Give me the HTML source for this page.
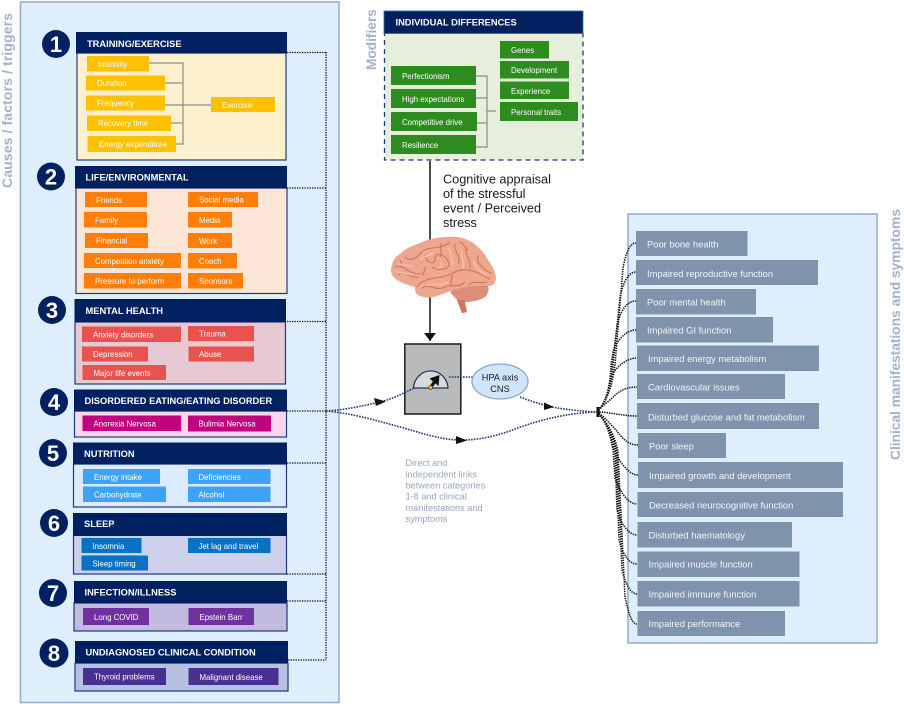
<!DOCTYPE html>
<html>
<head>
<meta charset="utf-8">
<style>
html,body{margin:0;padding:0;background:#fff;width:904px;height:704px;overflow:hidden}
svg{display:block;font-family:"Liberation Sans",sans-serif;filter:blur(0.35px)}
.h{font-weight:bold;font-size:9.3px;fill:#fff}
.c{font-size:7.85px;fill:#fff}
.r{font-size:9.4px;fill:#f2f5f8}
.n{font-weight:bold;font-size:22px;fill:#fff;text-anchor:middle}
.d{fill:none;stroke:#1a1a1a;stroke-width:1.3;stroke-dasharray:1.4 1.1}
.f{fill:none;stroke:#111;stroke-width:1.5;stroke-dasharray:1.4 1}
.b{fill:none;stroke:#24377a;stroke-width:1.6;stroke-dasharray:1.6 1.2}
.g{fill:none;stroke:#8c8c8c;stroke-width:1.2}
.y{fill:#ffc000}.o{fill:#fd7f0a}.rd{fill:#e8534f}.m{fill:#c0047f}.bl{fill:#3ea3f8}.dbl{fill:#0a72c2}.p{fill:#7030a0}.dp{fill:#47308f}.gr{fill:#2e8b1f}
.s{fill:#8093ac}
</style>
</head>
<body>
<svg width="904" height="704" viewBox="0 0 904 704" xmlns="http://www.w3.org/2000/svg">
<!-- Panels -->
<rect x="20.500" y="2" width="318.500" height="700.500" fill="#deeefd" stroke="#9cadcc" stroke-width="1.600"/>
<rect x="628" y="214" width="249" height="429" fill="#deeefd" stroke="#9cadcc" stroke-width="1.600"/>

<text transform="translate(12,188) rotate(-90)" font-size="14" fill="#a3b1cb" textLength="175" font-weight="bold">Causes / factors / triggers</text>
<text transform="translate(376,70) rotate(-90)" font-size="13.700" fill="#a3b1cb" font-weight="bold">Modifiers</text>
<text transform="translate(900,460) rotate(-90)" font-size="14" fill="#a3b1cb" textLength="251" font-weight="bold">Clinical manifestations and symptoms</text>

<!-- Dotted connector left -->
<path class="d" d="M287 52.500H326M287 188H326M287 321.500H326M287 411H326M287 463H326M287 574H326M287 601H326M288 660H326M326 52V660"/>

<!-- Section bodies -->
<g stroke="#1f3a78" stroke-width="1.200">
<rect x="77" y="53" width="209" height="107" fill="#fdf0cf"/>
<rect x="76" y="188" width="211" height="105.500" fill="#fbe5d6"/>
<rect x="75" y="322" width="210.500" height="62" fill="#e6c9d3"/>
<rect x="74.500" y="411" width="212" height="26" fill="#f9d7e9"/>
<rect x="73.500" y="464" width="213" height="43" fill="#dbeafc"/>
<rect x="73.500" y="535" width="213" height="39" fill="#cfd0ec"/>
<rect x="74" y="603" width="213" height="28" fill="#c2badf"/>
<rect x="75" y="663" width="213" height="28" fill="#b6c0e2"/>
</g>
<!-- Headers -->
<g fill="#002060">
<rect x="76" y="32" width="211" height="21.500"/>
<rect x="75" y="166" width="212" height="22.500"/>
<rect x="74.500" y="299" width="211.500" height="23"/>
<rect x="74" y="389.500" width="213" height="22"/>
<rect x="73" y="442.500" width="214" height="22"/>
<rect x="73" y="513" width="214" height="23"/>
<rect x="74" y="581" width="213" height="22"/>
<rect x="75" y="641" width="213" height="22.500"/>
<circle cx="56" cy="44" r="14"/>
<circle cx="51" cy="176.500" r="14"/>
<circle cx="52" cy="310" r="14"/>
<circle cx="54" cy="402" r="14"/>
<circle cx="53" cy="453" r="14"/>
<circle cx="54" cy="523" r="14"/>
<circle cx="53" cy="593" r="14"/>
<circle cx="54" cy="653" r="14.500"/>
</g>
<text class="n" x="56" y="52">1</text>
<text class="n" x="51" y="184.500">2</text>
<text class="n" x="52" y="318">3</text>
<text class="n" x="54" y="410">4</text>
<text class="n" x="53" y="461">5</text>
<text class="n" x="54" y="531">6</text>
<text class="n" x="53" y="601">7</text>
<text class="n" x="54" y="661">8</text>

<text class="h" x="87" y="47">TRAINING/EXERCISE</text>
<text class="h" x="85.500" y="180.500">LIFE/ENVIRONMENTAL</text>
<text class="h" x="85.500" y="314">MENTAL HEALTH</text>
<text class="h" x="84.500" y="404">DISORDERED EATING/EATING DISORDER</text>
<text class="h" x="84" y="457">NUTRITION</text>
<text class="h" x="84" y="527">SLEEP</text>
<text class="h" x="84.500" y="595.500">INFECTION/ILLNESS</text>
<text class="h" x="85.500" y="655.500">UNDIAGNOSED CLINICAL CONDITION</text>

<!-- Section 1 -->
<path class="g" d="M149 63H183V144H176M165 83H183M165 105H211M171 123H183"/>
<g class="y">
<rect x="87" y="56" width="62" height="15.500"/>
<rect x="86" y="75.500" width="79" height="15"/>
<rect x="86" y="95.500" width="79" height="15"/>
<rect x="87" y="115.500" width="84" height="15.500"/>
<rect x="87.500" y="136" width="88.500" height="16"/>
<rect x="211" y="97" width="64" height="15"/>
</g>
<text class="c" x="98" y="67">Intensity</text>
<text class="c" x="97" y="86">Duration</text>
<text class="c" x="97" y="106">Frequency</text>
<text class="c" x="98" y="126">Recovery time</text>
<text class="c" x="99" y="147">Energy expenditure</text>
<text class="c" x="222" y="108">Exercise</text>

<!-- Section 2 -->
<g class="o">
<rect x="85" y="192" width="62" height="15"/>
<rect x="84" y="212" width="63" height="15.500"/>
<rect x="85" y="233" width="63" height="15"/>
<rect x="84" y="253" width="97" height="15"/>
<rect x="84" y="273" width="97" height="15.500"/>
<rect x="188" y="192" width="70" height="15"/>
<rect x="188" y="212" width="44" height="15.500"/>
<rect x="188" y="233" width="44" height="15"/>
<rect x="188" y="253" width="49" height="15.500"/>
<rect x="188" y="273" width="55" height="15.500"/>
</g>
<text class="c" x="96" y="203">Friends</text>
<text class="c" x="95" y="223">Family</text>
<text class="c" x="96" y="243.500">Financial</text>
<text class="c" x="95" y="264">Competition anxiety</text>
<text class="c" x="95" y="284">Pressure to perform</text>
<text class="c" x="199" y="202.500">Social media</text>
<text class="c" x="199" y="223">Media</text>
<text class="c" x="199" y="244">Work</text>
<text class="c" x="199" y="264">Coach</text>
<text class="c" x="199" y="284">Sponsors</text>

<!-- Section 3 -->
<g class="rd">
<rect x="82" y="326.500" width="99" height="15.500"/>
<rect x="82" y="346.500" width="66" height="15"/>
<rect x="82.500" y="365" width="83.500" height="15"/>
<rect x="188" y="326" width="66" height="15"/>
<rect x="188.500" y="346.500" width="65.500" height="15"/>
</g>
<text class="c" x="93" y="337.500">Anxiety disorders</text>
<text class="c" x="93" y="357">Depression</text>
<text class="c" x="93.500" y="376">Major life events</text>
<text class="c" x="199" y="336.500">Trauma</text>
<text class="c" x="199" y="357">Abuse</text>

<!-- Section 4 -->
<g class="m">
<rect x="82.500" y="415.500" width="98.500" height="15.500"/>
<rect x="188" y="415.500" width="83" height="16"/>
</g>
<text class="c" x="93.500" y="426.500">Anorexia Nervosa</text>
<text class="c" x="198.500" y="426.500">Bulimia Nervosa</text>

<!-- Section 5 -->
<g class="bl">
<rect x="83" y="469" width="77" height="15"/>
<rect x="83" y="486.500" width="83" height="15.500"/>
<rect x="188" y="469" width="82.500" height="15"/>
<rect x="188" y="486.500" width="82.500" height="15.500"/>
</g>
<text class="c" x="94" y="480">Energy intake</text>
<text class="c" x="94" y="497.500">Carbohydrate</text>
<text class="c" x="198.500" y="480">Deficiencies</text>
<text class="c" x="198.500" y="497.500">Alcohol</text>

<!-- Section 6 -->
<g class="dbl">
<rect x="81.500" y="538" width="60" height="15"/>
<rect x="81.500" y="555.500" width="66.500" height="15"/>
<rect x="188" y="538" width="82.500" height="15"/>
</g>
<text class="c" x="92.500" y="549">Insomnia</text>
<text class="c" x="92.500" y="566.500">Sleep timing</text>
<text class="c" x="198.500" y="549">Jet lag and travel</text>

<!-- Section 7 -->
<g class="p">
<rect x="83" y="608" width="66" height="17"/>
<rect x="188.500" y="608" width="65.500" height="17"/>
</g>
<text class="c" x="94" y="620">Long COVID</text>
<text class="c" x="199.500" y="620">Epstein Barr</text>

<!-- Section 8 -->
<g class="dp">
<rect x="83" y="668" width="83" height="17"/>
<rect x="188.500" y="668" width="90" height="17"/>
</g>
<text class="c" x="94" y="679.500">Thyroid problems</text>
<text class="c" x="199.500" y="680">Malignant disease</text>

<!-- Modifiers box -->
<path d="M430 161V341" stroke="#111" stroke-width="1.500" fill="none"/>
<rect x="384.500" y="33" width="198.500" height="127" fill="#e5efdc" stroke="#1f3a78" stroke-width="1.300" stroke-dasharray="5 4"/>
<rect x="384" y="11" width="199" height="22.500" fill="#002060" stroke="#2f6fb5" stroke-width="0.800"/>
<text class="h" x="395.500" y="25.500">INDIVIDUAL DIFFERENCES</text>
<path class="g" d="M476 76H487V147H476M476 98H487M477 123H487M487 111H496"/>
<g class="gr">
<rect x="500" y="41" width="49" height="17.500"/>
<rect x="500" y="61" width="69" height="17.500"/>
<rect x="500" y="81.500" width="69" height="17.500"/>
<rect x="500" y="102" width="78" height="19"/>
<rect x="391" y="66" width="85" height="19"/>
<rect x="391" y="89" width="85" height="19"/>
<rect x="391" y="112" width="86" height="19"/>
<rect x="391" y="135" width="85" height="19"/>
</g>
<text class="c" x="511" y="53">Genes</text>
<text class="c" x="511" y="73">Development</text>
<text class="c" x="511" y="94">Experience</text>
<text class="c" x="511" y="115">Personal traits</text>
<text class="c" x="402" y="79">Perfectionism</text>
<text class="c" x="402" y="102">High expectations</text>
<text class="c" x="402" y="125">Competitive drive</text>
<text class="c" x="402" y="148">Resilience</text>

<g font-size="12.700" fill="#1a1a1a">
<text x="443" y="183.500">Cognitive appraisal</text>
<text x="443" y="198">of the stressful</text>
<text x="443" y="212.500">event / Perceived</text>
<text x="443" y="227">stress</text>
</g>

<!-- Brain -->
<path d="M450 292C453 296 456 298 457 300L462 313L467 312L465 302C472 302 482 300 486 296C489 292 489 288 488 286C478 282 460 284 450 292Z" fill="#d98f79"/>
<path d="M457 300L462 313L467 312L464 300Z" fill="#d2735c"/>
<path d="M391 270C392 260 396 256 400 254C406 248 412 246 420 243C430 238 445 236 458 237C468 239 474 243 478 247C483 251 486 256 488 260C492 265 495 271 496 277C496 282 494 285 490 286C476 285 460 287 448 292C440 295 436 297 430 297.500C424 298 418 296 416 293C415 290 415 288 415 287C408 285 402 283 397 280C393 277 391 274 391 270Z" fill="#efa68e"/>
<g transform="translate(385 232) scale(.3333)" fill="none">
<g stroke="#c9735e" stroke-width="3">
<path d="M95 165C120 130 170 145 210 120C240 105 280 120 315 142"/>
<path d="M30 105C60 95 70 130 110 125"/>
<path d="M60 75C75 90 95 80 110 60C130 40 170 55 195 30"/>
<path d="M120 70C125 95 150 100 150 80C150 60 180 65 190 90C200 110 165 120 140 105"/>
<path d="M210 35C205 60 230 70 220 95"/>
<path d="M245 45C235 70 260 80 255 110"/>
<path d="M280 70C270 90 290 110 320 125"/>
<path d="M110 170C130 150 150 180 180 165C200 155 220 170 240 150"/>
<path d="M250 160C265 145 285 155 305 150"/>
<path d="M40 128C60 115 80 140 100 135"/>
<path d="M45 85C55 95 45 105 60 110"/>
<path d="M170 35C160 50 175 60 165 75M225 30C240 35 240 50 250 55"/>
<path d="M120 105C125 115 110 120 115 130M200 130C205 145 190 150 200 160"/>
</g>
<g stroke="#f8c6b2" stroke-width="3.500">
<path d="M40 95C55 105 70 95 85 105"/>
<path d="M105 85C115 70 135 75 145 60"/>
<path d="M165 90C175 100 170 110 155 108"/>
<path d="M230 55C225 75 240 85 235 110"/>
<path d="M265 85C265 100 285 120 305 130"/>
<path d="M125 160C145 150 165 165 190 150"/>
<path d="M190 50C200 55 195 75 205 100"/>
<path d="M35 120C55 125 65 125 85 128"/>
</g>
</g>
<path d="M424 333H436L430 341Z" fill="#111"/>

<!-- Gauge -->
<rect x="404.800" y="344" width="56" height="70" fill="#b8babc" stroke="#1a1a1a" stroke-width="1.500"/>
<path d="M413.500 388A17.300 18.500 0 0 1 448 388Z" fill="#d9d9d9" stroke="#1f3864" stroke-width="1.300"/>
<path d="M431 387L435 381" stroke="#111" stroke-width="3"/>
<path d="M439.500 375L438.500 386L429.500 378.500Z" fill="#111"/>
<circle cx="430.700" cy="387.500" r="1.900" fill="#ffc000" stroke="#1f3864" stroke-width="0.700"/>

<!-- Blue connectors -->
<path class="b" d="M326 411C345 410 362 406 380 402C392 399 402 394 414 388"/>
<path class="b" d="M326 411C350 413 375 420 400 427C422 433 440 440 462 440C480 440 495 436 510 431C535 421 565 413 597 412"/>
<path class="b" d="M449 377H473"/>
<path class="b" d="M520 397C530 401 540 404 552 407C568 410 582 411 597 412"/>
<ellipse cx="500" cy="381.500" rx="28" ry="17.500" fill="#cfe5fb" stroke="#8fa6c8" stroke-width="1.300"/>
<text x="500" y="380.500" font-size="9.200" text-anchor="middle" fill="#1a1a1a">HPA axis</text>
<text x="500" y="392" font-size="9.200" text-anchor="middle" fill="#1a1a1a">CNS</text>
<path d="M374 398L386 401.500L376 406Z" fill="#111"/>
<path d="M544 402.500L554 407L544 410Z" fill="#111"/>
<path d="M456 436L467 440.500L456 444Z" fill="#111"/>

<g font-size="9.200" fill="#97a5c0">
<text x="405.500" y="466">Direct and</text>
<text x="405.500" y="477.500">independent links</text>
<text x="405.500" y="488.500">between categories</text>
<text x="405.500" y="499.500">1-8 and clinical</text>
<text x="405.500" y="511">manifestations and</text>
<text x="405.500" y="522">symptoms</text>
</g>

<!-- Fan -->
<g>
<path class="f" d="M597 412C606 403 612 388 615 365L623 268C626 252 630 243 636 243"/>
<path class="f" d="M597 412C606 403 612 388 613 365L620 297C623 283 628 272 636 272"/>
<path class="f" d="M597 412C606 403 610 388 612 365L617 326C620 312 626 301 636 301"/>
<path class="f" d="M597 412C606 403 610 388 611 365L613 352C616 342 625 330 636 330"/>
<path class="f" d="M597 412C605 403 609 392 610 382C612 370 625 358 637 358"/>
<path class="f" d="M597 412C604 404 608 402 612 398C618 392 625 387 637 387"/>
<path class="f" d="M597 412C610 412 622 416 637 416"/>
<path class="f" d="M597 412C604 416 610 424 616 430C622 438 628 445 638 445"/>
<path class="f" d="M597 412C605 420 610 430 612 445C618 460 628 475 638 475"/>
<path class="f" d="M597 412C605 420 610 432 613 450L615 478C620 492 628 504 637 504"/>
<path class="f" d="M597 412C606 421 612 434 615 452L617 510C620 522 628 535 637 535"/>
<path class="f" d="M597 412C606 421 613 434 616 452L619 540C622 552 628 564 637 564"/>
<path class="f" d="M597 412C606 421 614 434 617 452L622 570C625 582 630 594 637 594"/>
<path class="f" d="M597 412C606 421 615 434 618 452L625 597C628 610 631 624 637 624"/>
</g>
<rect x="596.500" y="407" width="3" height="10" fill="#111"/>

<!-- Right boxes -->
<g class="s">
<rect x="636" y="231" width="111.500" height="25"/>
<rect x="636" y="260" width="182" height="25"/>
<rect x="636" y="289" width="120" height="25.500"/>
<rect x="636" y="317" width="137" height="25.500"/>
<rect x="637" y="345.500" width="182" height="25.500"/>
<rect x="637" y="374" width="148" height="25"/>
<rect x="637" y="403" width="182" height="26"/>
<rect x="638" y="433" width="88" height="25"/>
<rect x="638" y="462" width="205" height="26"/>
<rect x="637.500" y="492" width="205.500" height="25"/>
<rect x="637.500" y="522" width="154.500" height="25.500"/>
<rect x="637.500" y="551.500" width="162" height="25.500"/>
<rect x="637.500" y="581" width="162" height="25.500"/>
<rect x="637.500" y="611" width="147.500" height="25"/>
</g>
<text class="r" x="647" y="247.500">Poor bone health</text>
<text class="r" x="647" y="277">Impaired reproductive function</text>
<text class="r" x="647" y="305.500">Poor mental health</text>
<text class="r" x="647" y="333.500">Impaired GI function</text>
<text class="r" x="648" y="362">Impaired energy metabolism</text>
<text class="r" x="648" y="390.500">Cardiovascular issues</text>
<text class="r" x="648" y="420.500">Disturbed glucose and fat metabolism</text>
<text class="r" x="649" y="449.500">Poor sleep</text>
<text class="r" x="649" y="479">Impaired growth and development</text>
<text class="r" x="649" y="508.500">Decreased neurocognitive function</text>
<text class="r" x="648.500" y="538.500">Disturbed haematology</text>
<text class="r" x="648.500" y="567.500">Impaired muscle function</text>
<text class="r" x="648.500" y="597.500">Impaired immune function</text>
<text class="r" x="648.500" y="627">Impaired performance</text>
</svg>
</body>
</html>
